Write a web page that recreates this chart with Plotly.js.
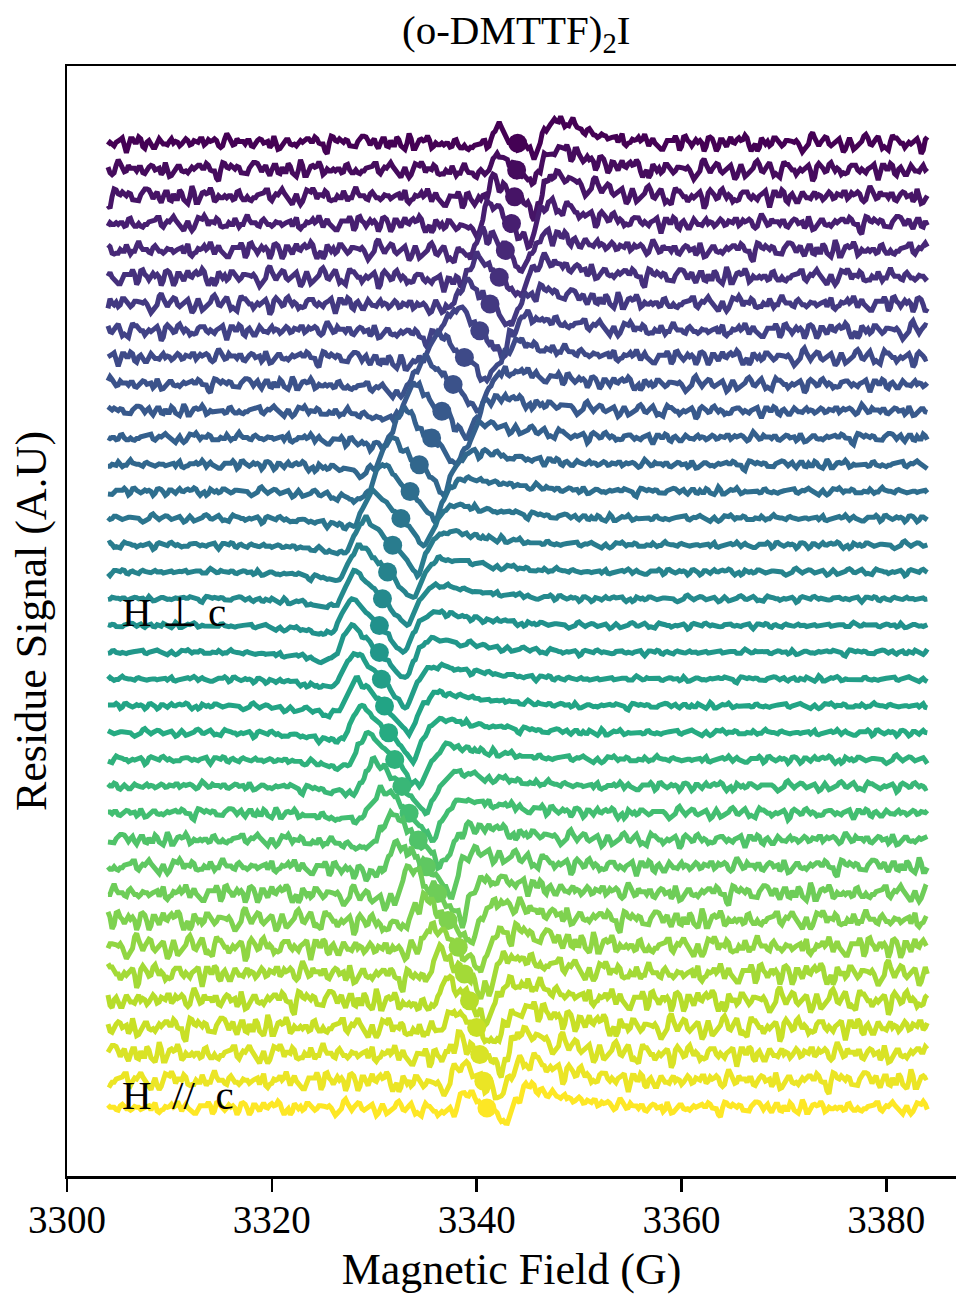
<!DOCTYPE html>
<html>
<head>
<meta charset="utf-8">
<script src="https://cdn.plot.ly/plotly-3.0.1.min.js"></script>
<style>html,body{margin:0;padding:0;background:#fff;}</style>
</head>
<body>
<div id="chart" style="width:956px;height:1294px;"></div>
<script>
// ---- data (top trace first) ----
const fieldStart = 3304, fieldEnd = 3384, fieldStep = 0.2;
const centers = [3344.0,3343.9,3343.7,3343.4,3342.8,3342.2,3341.3,3340.3,3338.8,3337.7,3336.6,3335.6,3334.4,3333.5,3332.6,3331.8,3331.3,3330.8,3330.5,3330.5,3330.7,3331.0,3331.4,3332.0,3332.7,3333.4,3334.3,3335.1,3336.2,3337.2,3338.2,3338.8,3339.3,3340.0,3340.3,3340.7,3341.0];
const amps = [0.55,0.6,0.65,0.7,0.75,0.8,0.85,0.9,0.95,1.0,1.0,1.05,1.05,1.05,1.05,1.05,1.05,1.05,1.05,1.05,1.05,1.05,1.05,1.05,1.0,1.0,1.0,0.95,0.9,0.85,0.8,0.75,0.7,0.65,0.6,0.55,0.55];
const humps = [0.9,0.85,0.8,0.7,0.6,0.55,0.5,0.5,0.5,0.5,0.5,0.5,0.5,0.5,0.5,0.5,0.5,0.5,0.5,0.5,0.5,0.5,0.5,0.5,0.5,0.5,0.5,0.55,0.55,0.6,0.6,0.65,0.7,0.75,0.8,0.8,0.8];
const widths = [0.75,0.75,0.8,0.8,0.85,0.9,0.95,1,1.05,1.1,1.1,1.1,1.1,1.1,1.1,1.1,1.1,1.1,1.1,1.1,1.1,1.1,1.1,1.1,1.1,1.1,1.1,1.05,1.05,1,1,0.95,0.9,0.9,0.85,0.85,0.85];
const noiseLevels = [0.38,0.4,0.42,0.38,0.4,0.4,0.38,0.36,0.34,0.3,0.27,0.24,0.21,0.18,0.16,0.15,0.14,0.13,0.13,0.13,0.13,0.14,0.15,0.17,0.2,0.24,0.3,0.36,0.42,0.46,0.5,0.5,0.5,0.5,0.48,0.46,0.32];
// line-shape (field offset from centre, height in trace spacings)
const lineDx = [-14,-10,-7,-5,-4,-3.2,-2.5,-1.8,-0.9,0,0.9,1.6,2.2,2.9,3.6,4.5];
const lineDy = [0,-0.05,-0.15,-0.3,-0.2,0.5,1.0,0.75,0.35,0,-0.4,-0.8,-1.0,-0.5,-0.15,0];
const humpDx = [2.5,3.5,4.5,6,9,13,18];
const humpDy = [0,0.6,1.0,0.85,0.45,0.15,0];
// hand-typed noise texture
const noiseDigits = "546174583047562954166350847263491752638452836491573748152695642935718451738462904860527391635291847539462710585729364815418395762665074831923862514970528473961546190835277352641809284691537459372604814175839626629451708338517269455460938172472816539069135274483586249170514738296046928157366038574219371592648458641370294290658371647381925035289471665916273840438506172967428395153159476280562738410948361957266071548392";
const tickVals = [3300,3320,3340,3360,3380];
const tickText = ["3300","3320","3340","3360","3380"];

// viridis anchors
const viridis = ["#440154","#482475","#414487","#355f8d","#2a788e","#21918c","#22a884","#44bf70","#7ad151","#bddf26","#fde725"];
function hexToRgb(h){return [parseInt(h.substr(1,2),16),parseInt(h.substr(3,2),16),parseInt(h.substr(5,2),16)];}
function viridisAt(t){
  const p=t*(viridis.length-1); const i=Math.min(Math.floor(p),viridis.length-2); const f=p-i;
  const a=hexToRgb(viridis[i]), b=hexToRgb(viridis[i+1]);
  return "rgb("+a.map((v,j)=>Math.round(v+(b[j]-v)*f)).join(",")+")";
}
function interp(xs,ys,x){
  if(x<=xs[0])return ys[0];
  if(x>=xs[xs.length-1])return ys[ys.length-1];
  for(let i=0;i<xs.length-1;i++){ if(x<=xs[i+1]){const f=(x-xs[i])/(xs[i+1]-xs[i]);return ys[i]+(ys[i+1]-ys[i])*f;} }
  return 0;
}
const L = noiseDigits.length;
function digit(i){ return (noiseDigits.charCodeAt(((i%L)+L)%L)-48-4.5)/4.5; }
const n = centers.length;
const nPts = Math.round((fieldEnd-fieldStart)/fieldStep)+1;
const traces=[];
for(let k=0;k<n;k++){
  const off = n-1-k;
  const col = viridisAt(k/(n-1));
  const xs=[], ys=[];
  for(let j=0;j<nPts;j++){
    const x = fieldStart + j*fieldStep;
    const u = (x-centers[k])/widths[k];
    const i0 = j+53*k;
    const nz = (digit(i0-1)+2*digit(i0)+digit(i0+1))/4*1.55;
    xs.push(x);
    ys.push(off + amps[k]*interp(lineDx,lineDy,u) + humps[k]*interp(humpDx,humpDy,u) + noiseLevels[k]*nz);
  }
  traces.push({x:xs,y:ys,type:"scatter",mode:"lines",line:{color:col,width:5},hoverinfo:"skip",showlegend:false});
  traces.push({x:[centers[k]],y:[off],type:"scatter",mode:"markers",marker:{color:col,size:19},showlegend:false});
}
const font = "Liberation Serif, Times New Roman, serif";
const layout = {
  width:956, height:1294,
  margin:{l:67,r:0,t:66,b:118},
  paper_bgcolor:"#fff", plot_bgcolor:"#fff",
  title:{text:"(o-DMTTF)<sub>2</sub>I", font:{family:font,size:41,color:"#000"}, x:0.54, xanchor:"center", y:0.977, yanchor:"middle"},
  xaxis:{range:[3300,3386.8], tickvals:tickVals, ticktext:tickText, ticks:"outside", ticklen:13, tickwidth:2.5, tickcolor:"#000",
    ticklabelstandoff:-5,
    showline:true, linecolor:"#000", linewidth:2.5, mirror:true, showgrid:false, zeroline:false,
    tickfont:{family:font,size:39,color:"#000"},
    title:{text:"Magnetic Field (G)", font:{family:font,size:44,color:"#000"}, standoff:14}},
  yaxis:{range:[-2.537,38.88], showticklabels:false, ticks:"", showline:true, linecolor:"#000", linewidth:2.5,
    showgrid:false, zeroline:false,
    title:{text:"Residue Signal (A.U)", font:{family:font,size:44,color:"#000"}, standoff:4}},
  annotations:[
    {x:3305.2,y:18.5,xref:"x",yref:"y",text:"H ⊥ c",showarrow:false,xanchor:"left",yanchor:"middle",font:{family:font,size:41,color:"#000"}},
    {x:3305.2,y:0.49,xref:"x",yref:"y",text:"H\u2002//\u2002c",showarrow:false,xanchor:"left",yanchor:"middle",font:{family:font,size:41,color:"#000"}}
  ]
};
Plotly.newPlot("chart", traces, layout, {staticPlot:true, displayModeBar:false});
</script>
</body>
</html>
